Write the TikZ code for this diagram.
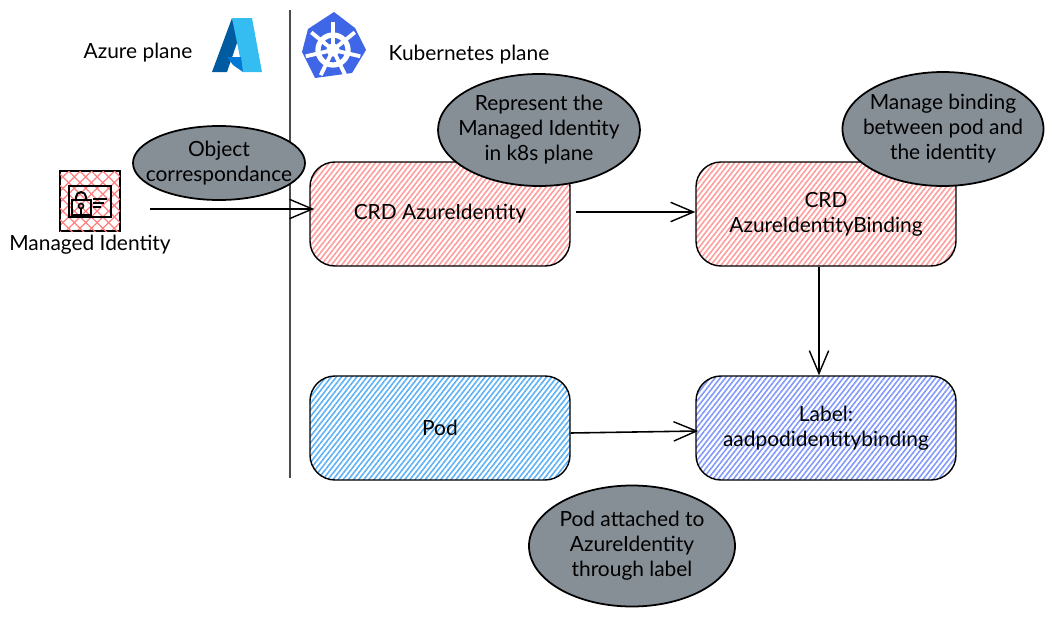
\documentclass[tikz,border=0pt]{standalone}
\usepackage{fontspec}
\setmainfont{Lato}
\usetikzlibrary{arrows.meta,patterns.meta,shapes.geometric}
\definecolor{notegray}{HTML}{868E96}
\definecolor{iconred}{HTML}{FF7F7F}
\definecolor{hatchred}{HTML}{FF9C9C}
\definecolor{hatchblue}{HTML}{5CB1F7}
\definecolor{hatchindigo}{HTML}{8199FC}
\definecolor{kubeblue}{HTML}{3E66E6}
\definecolor{azuredark}{HTML}{005BA1}
\definecolor{azuremid}{HTML}{0078D4}
\definecolor{azurelight}{HTML}{35BDF2}
\tikzset{
  >={Straight Barb[length=13pt,width=11pt,line width=0.8pt]},
  label text/.style={font=\fontsize{11.9}{14.2}\selectfont, align=center},
  hatchbox/.style={label text, draw=black, line width=0.8pt, rounded corners=0.5cm, minimum width=5.2cm, minimum height=2.08cm,
    pattern={Lines[angle=52,distance=2.3pt,line width=0.9pt]}, pattern color=#1},
  note/.style={ellipse, draw=black, line width=1pt, fill=notegray, inner sep=0pt},
  link/.style={->, line width=0.9pt}
}
\begin{document}
\begin{tikzpicture}
  \useasboundingbox (0,0) rectangle (21.06,12.34);
  % plane separator
  \coordinate (planetop) at (5.8,12.14);
  \coordinate (planebottom) at (5.8,2.78);
  \draw[line width=1.5pt, black!70] (planetop) -- (planebottom);
  \node[label text] (azureplane) at (2.76,11.28) {Azure plane};
  \node[label text] (kubeplane) at (9.38,11.24) {Kubernetes plane};
  % azure logo
  \fill[azuredark] (4.64,11.98) -- (4.24,10.9) -- (4.54,10.9) -- (4.76,11.54) -- cycle;
  \fill[azurelight] (4.64,11.98) -- (5.04,11.98) -- (5.24,10.9) -- (4.86,10.9) -- cycle;
  \fill[azuremid] (4.54,11.2) -- (4.82,11.2) -- (4.86,10.9) -- (4.66,11.04) -- cycle;
  % kubernetes logo
  \fill[kubeblue] (6.68,12.1) -- (7.1,11.78) -- (7.32,11.34) -- (7.04,10.88) -- (6.3,10.78) -- (6.04,11.3) -- (6.16,11.76) -- cycle;
  \draw[white, line width=3pt] (6.66,11.34) circle (0.3);
  \foreach \a in {90,141,193,244,296,347,39}{
    \draw[white, line width=2.2pt] (6.66,11.34) -- ++(\a:0.56);
  }
  \fill[white] (6.66,11.34) circle (0.13);
  % managed identity icon
  \node[draw=black, line width=1.3pt, minimum size=1.2cm, inner sep=0pt,
    pattern={Lines[angle=45,distance=4.6pt,line width=0.7pt]}, pattern color=iconred,
    postaction={pattern={Lines[angle=-45,distance=4.6pt,line width=0.7pt]}, pattern color=iconred}] (identity) at (1.8,8.32) {};
  \draw[line width=1.1pt] (1.38,8.62) rectangle (2.22,8.0);
  \draw[line width=1.1pt] (1.44,8.34) rectangle (1.82,8.04);
  \draw[line width=1.1pt] (1.52,8.34) -- (1.52,8.4) arc (180:0:0.1) -- (1.72,8.34);
  \draw[line width=0.9pt] (1.62,8.22) circle (0.05);
  \draw[line width=0.9pt] (1.62,8.17) -- (1.62,8.07);
  \draw[line width=0.7pt] (1.86,8.36) -- (2.14,8.36);
  \draw[line width=0.7pt] (1.86,8.28) -- (2.08,8.28);
  \draw[line width=0.7pt] (1.86,8.2) -- (2.02,8.2);
  \node[label text] (identitytext) at (1.8,7.44) {Managed Identity};
  % resources
  \node[hatchbox=hatchred] (crdid) at (8.8,8.06) {CRD AzureIdentity};
  \node[hatchbox=hatchred] (crdbind) at (16.52,8.06) {CRD\\AzureIdentityBinding};
  \node[hatchbox=hatchblue] (pod) at (8.8,3.78) {Pod};
  \node[hatchbox=hatchindigo] (labelbox) at (16.52,3.78) {Label:\\aadpodidentitybinding};
  % notes
  \node[note, minimum width=3.44cm, minimum height=1.48cm] (objectnote) at (4.38,9.08) {};
  \node[label text] (objecttext) at (objectnote) {Object\\correspondance};
  \node[note, minimum width=4.04cm, minimum height=2.24cm] (representnote) at (10.78,9.74) {};
  \node[label text] (representtext) at (representnote) {Represent the\\Managed Identity\\in k8s plane};
  \node[note, minimum width=4.02cm, minimum height=2.28cm] (bindingnote) at (18.86,9.76) {};
  \node[label text] (bindingtext) at (bindingnote) {Manage binding\\between pod and\\the identity};
  \node[note, minimum width=4.12cm, minimum height=2.42cm] (attachednote) at (12.64,1.42) {};
  \node[label text] (attachedtext) at (attachednote) {Pod attached to\\AzureIdentity\\through label};
  % links
  \coordinate (identityout) at (3,8.16);
  \draw[link] (identityout) -- ([xshift=0.1cm]crdid.west |- identityout);
  \draw[link] ([xshift=0.1cm,yshift=0.04cm]crdid.east) -- ([yshift=0.04cm]crdbind.west);
  \draw[link] ([xshift=-0.14cm]crdbind.south) -- ([xshift=-0.14cm]labelbox.north);
  \draw[link] ([yshift=-0.1cm]pod.east) -- ([xshift=0.06cm,yshift=-0.06cm]labelbox.west);
\end{tikzpicture}
\end{document}
